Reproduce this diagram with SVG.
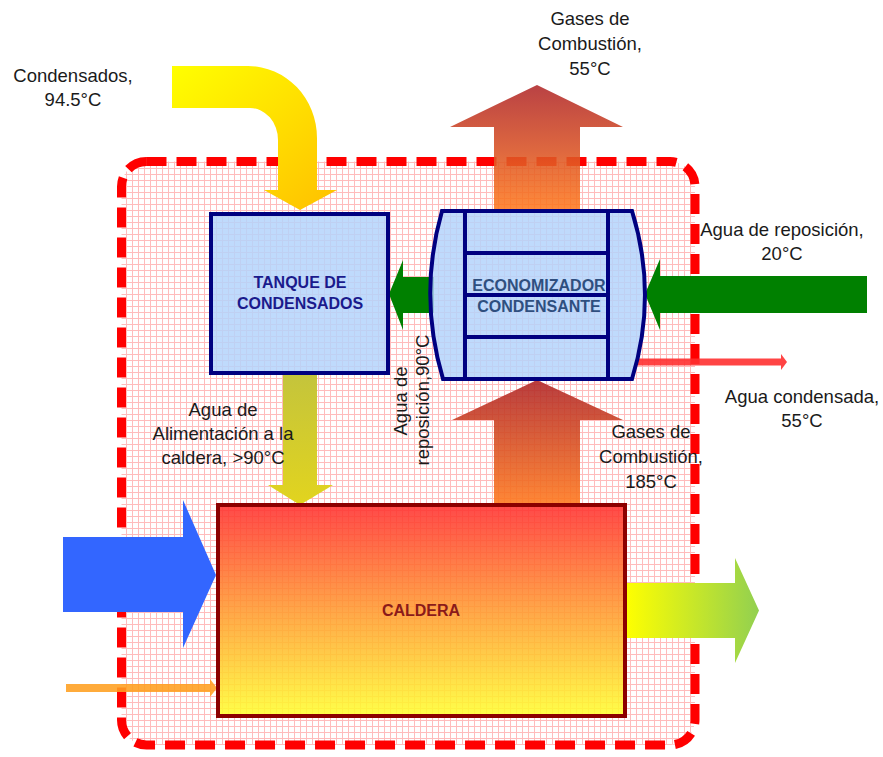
<svg xmlns="http://www.w3.org/2000/svg" width="883" height="757" viewBox="0 0 883 757">
<style>
.lbl{font-family:"Liberation Sans",Arial,sans-serif;font-size:18.5px;fill:#1a1a1a;text-anchor:middle}
.node{font-family:"Liberation Sans",Arial,sans-serif;font-size:16px;font-weight:bold;text-anchor:middle}
.box{fill:#b4d4fc;fill-opacity:0.85;stroke:#000080;stroke-width:4}
.ln{stroke:#000080;stroke-width:4;fill:none}
</style>
<defs>
<pattern id="grid" width="6" height="6" patternUnits="userSpaceOnUse">
<path d="M0,0.5 H6 M0.5,0 V6" stroke="#ffbcbc" stroke-width="1" fill="none"/>
</pattern>
<linearGradient id="gYel" x1="0" y1="0" x2="1" y2="1">
<stop offset="0" stop-color="#ffff00"/><stop offset="1" stop-color="#ffc000"/>
</linearGradient>
<linearGradient id="gGas" x1="0" y1="0" x2="0" y2="1">
<stop offset="0" stop-color="#b0282a"/><stop offset="1" stop-color="#ff7a20"/>
</linearGradient>
<linearGradient id="gCal" x1="0" y1="0" x2="0" y2="1">
<stop offset="0" stop-color="#ff3030"/><stop offset="0.5" stop-color="#ff9a30"/><stop offset="1" stop-color="#ffff30"/>
</linearGradient>
<linearGradient id="gOut" x1="0" y1="0" x2="1" y2="0">
<stop offset="0" stop-color="#ffff00"/><stop offset="1" stop-color="#92d050"/>
</linearGradient>
<linearGradient id="gFeed" x1="0" y1="0" x2="0" y2="1">
<stop offset="0" stop-color="#c4c43c"/><stop offset="1" stop-color="#e2d41e"/>
</linearGradient>
</defs>
<rect width="883" height="757" fill="#ffffff"/>
<g id="boundary">
<rect x="121.5" y="161.5" width="573.5" height="583.5" rx="25" fill="url(#grid)"/>
<rect x="121.5" y="161.5" width="573.5" height="583.5" rx="25" fill="none" stroke="#ff0000" stroke-width="9" stroke-dasharray="20 10"/>
</g>
<g id="connectors">
<path d="M172,66 L248,66 A69,72 0 0 1 317,138 L317,190 L337,190 L300,210 L264,190 L278,190 L278,140 A28,32 0 0 0 250,108 L172,108 Z" fill="url(#gYel)"/>
<polygon points="494,210 494,127 450,127 537,85 623,127 580,127 580,210" fill="url(#gGas)" opacity="0.88"/>
<polygon points="494,504 494,420 452,420 537,380 623,420 580,420 580,504" fill="url(#gGas)" opacity="0.9"/>
<polygon points="867,276 660,276 660,259 645,294 660,330 660,313 867,313" fill="#008000"/>
<polygon points="434,277 403,277 403,260 389,294 403,330 403,313 434,313" fill="#008000"/>
<g fill="#ff3030" opacity="0.9">
<rect x="636" y="358.5" width="146" height="7"/>
<polygon points="781,354 787,362 781,370"/>
</g>
<polygon points="283,373 317,373 317,485 333,485 300,505 268,485 283,485" fill="url(#gFeed)"/>
<polygon points="63,537 183,537 183,500 216,575 183,648 183,612 63,612" fill="#3366ff"/>
<g fill="#ffa020" opacity="0.88">
<rect x="66" y="684" width="145" height="8"/>
<polygon points="210,679 217,688 210,697"/>
</g>
<polygon points="626,583 735,583 735,558 759,610.5 735,663 735,638 626,638" fill="url(#gOut)"/>
</g>
<g id="tanque">
<rect class="box" x="211" y="214" width="177" height="159"/>
<text class="node" fill="#1a1a8c" x="300" y="288">TANQUE DE</text>
<text class="node" fill="#1a1a8c" x="300" y="309">CONDENSADOS</text>
</g>
<g id="economizador">
<path class="box" d="M442,211 L632,211 Q658,295 632,379 L443,379 Q418,295 442,211 Z"/>
<path class="ln" d="M465,211 V379 M608,211 V379 M465,253 H608 M465,295 H608 M465,337 H608"/>
<text class="node" fill="#2f4f7f" x="539" y="291">ECONOMIZADOR</text>
<text class="node" fill="#2f4f7f" x="539" y="312">CONDENSANTE</text>
</g>
<g id="caldera">
<rect x="218" y="505" width="407" height="211" fill="url(#gCal)" fill-opacity="0.88" stroke="#8b0000" stroke-width="4"/>
<text class="node" fill="#8b1a1a" x="421" y="616">CALDERA</text>
</g>
<g id="labels">
<text class="lbl" x="73" y="82">Condensados,</text>
<text class="lbl" x="73" y="106">94.5°C</text>
<text class="lbl" x="590" y="25">Gases de</text>
<text class="lbl" x="590" y="50">Combustión,</text>
<text class="lbl" x="590" y="75">55°C</text>
<text class="lbl" x="782" y="236">Agua de reposición,</text>
<text class="lbl" x="782" y="260">20°C</text>
<text class="lbl" x="802" y="403">Agua condensada,</text>
<text class="lbl" x="802" y="427">55°C</text>
<text class="lbl" x="651" y="438">Gases de</text>
<text class="lbl" x="651" y="463">Combustión,</text>
<text class="lbl" x="651" y="488">185°C</text>
<text class="lbl" x="223" y="416">Agua de</text>
<text class="lbl" x="223" y="440">Alimentación a la</text>
<text class="lbl" x="223" y="464">caldera, &gt;90°C</text>
<text class="lbl" transform="translate(407,401) rotate(-90)" x="0" y="0">Agua de</text>
<text class="lbl" transform="translate(429,400) rotate(-90)" x="0" y="0">reposición,90°C</text>
</g>
</svg>
